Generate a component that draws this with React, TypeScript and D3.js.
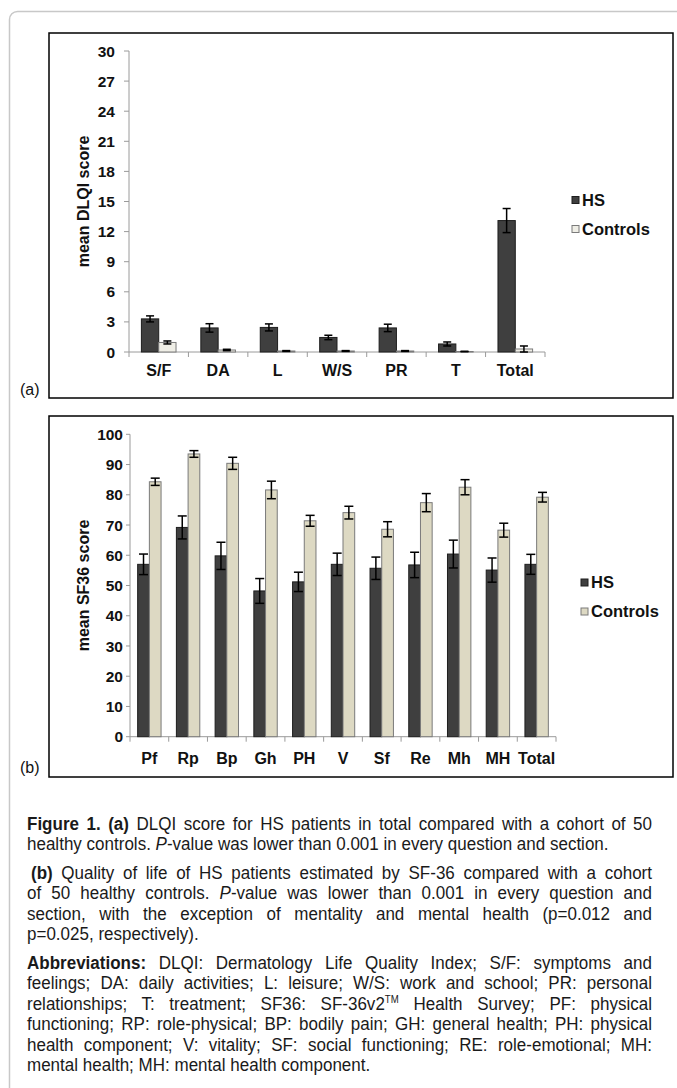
import { useLayoutEffect, useRef } from "react";
import * as d3 from "d3";

// ---- data: (a) DLQI ----
const dlqiCats = ["S/F", "DA", "L", "W/S", "PR", "T", "Total"];
const dlqiHS = [3.3, 2.4, 2.45, 1.45, 2.4, 0.8, 13.1];
const dlqiHSErr = [0.3, 0.42, 0.35, 0.22, 0.37, 0.2, 1.2];
const dlqiCtrl = [0.95, 0.2, 0.1, 0.1, 0.1, 0.05, 0.3];
const dlqiCtrlErr = [0.15, 0.07, 0.04, 0.04, 0.04, 0.02, 0.3];
const dlqiTicks = [0, 3, 6, 9, 12, 15, 18, 21, 24, 27, 30];

// ---- data: (b) SF36 ----
const sfCats = ["Pf", "Rp", "Bp", "Gh", "PH", "V", "Sf", "Re", "Mh", "MH", "Total"];
const sfHS = [57.0, 69.2, 59.8, 48.2, 51.2, 57.0, 55.7, 56.8, 60.4, 55.1, 57.0];
const sfHSErr = [3.4, 3.8, 4.5, 4.1, 3.2, 3.7, 3.7, 4.2, 4.6, 4.0, 3.3];
const sfCtrl = [84.3, 93.5, 90.4, 81.6, 71.4, 74.1, 68.6, 77.4, 82.5, 68.3, 79.2];
const sfCtrlErr = [1.2, 1.1, 2.0, 2.9, 1.8, 2.1, 2.5, 3.0, 2.5, 2.3, 1.6];
const sfTicks = [0, 10, 20, 30, 40, 50, 60, 70, 80, 90, 100];

const seriesNames = ["HS", "Controls"];

const FONT = "'Liberation Sans', Arial, sans-serif";
const HS_FILL = "#3f3f3f";

const geoA = {
  box: [49, 33, 673, 398], axisX: 129, xEnd: 545, yBase: 352, yTop: 51,
  labelEnd: 115, tickLen: 5, xLabelY: 376, legendX: 572, legendY: [200, 229],
  tagY: 395, pad: 0.717, cap: 8, ctrlFill: "#efeee6", title: "mean DLQI score", tag: "(a)",
};
const geoB = {
  box: [49, 416, 673, 777], axisX: 130, xEnd: 556, yBase: 736.7, yTop: 434.3,
  labelEnd: 123, tickLen: 4, xLabelY: 764, legendX: 581, legendY: [582.5, 611.5],
  tagY: 773, pad: 0.655, cap: 9, ctrlFill: "#ddd9c3", title: "mean SF36 score", tag: "(b)",
};

type Geo = typeof geoA;

function Panel({ geo, cats, hs, hsErr, ctrl, ctrlErr, ticks }: {
  geo: Geo; cats: string[]; hs: number[]; hsErr: number[]; ctrl: number[]; ctrlErr: number[]; ticks: number[];
}) {
  const x = d3.scaleBand<string>().domain(cats).range([geo.axisX, geo.xEnd]).padding(0);
  const sub = d3.scaleBand<string>().domain(seriesNames).range([0, x.bandwidth()])
    .paddingInner(0).paddingOuter(geo.pad);
  const y = d3.scaleLinear().domain([0, ticks[ticks.length - 1]]).range([geo.yBase, geo.yTop]);
  const [bx0, by0, bx1, by1] = geo.box;
  const series = [
    { name: "HS", vals: hs, errs: hsErr, fill: HS_FILL, stroke: "#1e1e1e" },
    { name: "Controls", vals: ctrl, errs: ctrlErr, fill: geo.ctrlFill, stroke: "#7a7a7a" },
  ];
  const bounds = [...cats.map((c) => x(c)!), geo.xEnd];
  return (
    <g fontFamily={FONT}>
      <rect x={bx0} y={by0} width={bx1 - bx0} height={by1 - by0} fill="#fff" stroke="#000" strokeWidth={1.5} />
      {/* y axis */}
      <line x1={geo.axisX} x2={geo.axisX} y1={y(ticks[ticks.length - 1])} y2={geo.yBase} stroke="#9a9a9a" />
      {ticks.map((t) => (
        <g key={t}>
          <line x1={geo.axisX - geo.tickLen} x2={geo.axisX} y1={y(t)} y2={y(t)} stroke="#9a9a9a" />
          <text x={geo.labelEnd} y={y(t)} dy="0.36em" textAnchor="end" fontSize={15.5} fontWeight="bold" fill="#111">
            {t}
          </text>
        </g>
      ))}
      {/* x axis */}
      <line x1={geo.axisX} x2={geo.xEnd} y1={geo.yBase} y2={geo.yBase} stroke="#9a9a9a" />
      {bounds.map((b, i) => (
        <line key={i} x1={b} x2={b} y1={geo.yBase} y2={geo.yBase + 5} stroke="#9a9a9a" />
      ))}
      {cats.map((c) => (
        <text key={c} x={x(c)! + x.bandwidth() / 2} y={geo.xLabelY} textAnchor="middle" fontSize={16} fontWeight="bold" fill="#111">
          {c}
        </text>
      ))}
      {/* bars */}
      {series.map((s) =>
        cats.map((c, i) => {
          const bx = x(c)! + sub(s.name)!;
          const bw = sub.bandwidth();
          const cx = bx + bw / 2;
          const top = y(s.vals[i]);
          const eHi = y(s.vals[i] + s.errs[i]);
          const eLo = y(Math.max(0, s.vals[i] - s.errs[i]));
          return (
            <g key={s.name + c}>
              <rect x={bx} y={top} width={bw} height={geo.yBase - top} fill={s.fill} stroke={s.stroke} strokeWidth={1} />
              <line x1={cx} x2={cx} y1={eHi} y2={eLo} stroke="#000" strokeWidth={1.5} />
              <line x1={cx - geo.cap / 2} x2={cx + geo.cap / 2} y1={eHi} y2={eHi} stroke="#000" strokeWidth={1.5} />
              <line x1={cx - geo.cap / 2} x2={cx + geo.cap / 2} y1={eLo} y2={eLo} stroke="#000" strokeWidth={1.5} />
            </g>
          );
        })
      )}
      {/* y title */}
      <text transform={`translate(83,${(geo.yBase + geo.yTop) / 2}) rotate(-90)`} dy="0.36em" textAnchor="middle"
        fontSize={16} fontWeight="bold" fill="#111">
        {geo.title}
      </text>
      {/* legend */}
      {series.map((s, i) => (
        <g key={s.name}>
          <rect x={geo.legendX} y={geo.legendY[i] - 3.5} width={7} height={7} fill={s.fill} stroke={s.stroke} />
          <text x={geo.legendX + 10} y={geo.legendY[i]} dy="0.36em" fontSize={16.5} fontWeight="bold" fill="#111">
            {s.name}
          </text>
        </g>
      ))}
      <text x={20} y={geo.tagY} fontSize={16} fill="#111">{geo.tag}</text>
    </g>
  );
}

type Seg = { t: string; b?: boolean; i?: boolean; sup?: boolean };
const captionLines: { segs: Seg[]; justify: boolean; indent?: number }[] = [
  { segs: [{ t: "Figure 1. (a)", b: true }, { t: " DLQI score for HS patients in total compared with a cohort of 50" }], justify: true },
  { segs: [{ t: "healthy controls. " }, { t: "P", i: true }, { t: "-value was lower than 0.001 in every question and section." }], justify: false },
  { segs: [{ t: "(b)", b: true }, { t: " Quality of life of HS patients estimated by SF-36 compared with a cohort" }], justify: true, indent: 4 },
  { segs: [{ t: "of 50 healthy controls. " }, { t: "P", i: true }, { t: "-value was lower than 0.001 in every question and" }], justify: true },
  { segs: [{ t: "section, with the exception of mentality and mental health (p=0.012 and" }], justify: true },
  { segs: [{ t: "p=0.025, respectively)." }], justify: false },
  { segs: [{ t: "Abbreviations:", b: true }, { t: " DLQI: Dermatology Life Quality Index; S/F: symptoms and" }], justify: true },
  { segs: [{ t: "feelings; DA: daily activities; L: leisure; W/S: work and school; PR: personal" }], justify: true },
  { segs: [{ t: "relationships; T: treatment; SF36: SF-36v2" }, { t: "TM", sup: true }, { t: " Health Survey; PF: physical" }], justify: true },
  { segs: [{ t: "functioning; RP: role-physical; BP: bodily pain; GH: general health; PH: physical" }], justify: true },
  { segs: [{ t: "health component; V: vitality; SF: social functioning; RE: role-emotional; MH:" }], justify: true },
  { segs: [{ t: "mental health; MH: mental health component." }], justify: false },
];
const captionY = [830, 850.5, 879, 899.5, 920, 940.5, 969, 989.5, 1010, 1030.5, 1051, 1071.5];
const CAP_LEFT = 27;
const CAP_RIGHT = 652;
const CAP_SX = 0.92; // narrow-face look

function Caption() {
  const refs = useRef<(SVGTextElement | null)[]>([]);
  useLayoutEffect(() => {
    captionLines.forEach((ln, i) => {
      const el = refs.current[i];
      if (!el || !ln.justify) return;
      el.setAttribute("word-spacing", "0");
      const w = el.getComputedTextLength();
      const txt = ln.segs.map((s) => s.t).join("");
      const spaces = (txt.match(/ /g) || []).length;
      const x0 = (CAP_LEFT + (ln.indent || 0)) / CAP_SX;
      if (spaces > 0) el.setAttribute("word-spacing", String((CAP_RIGHT / CAP_SX - x0 - w) / spaces));
    });
  }, []);
  return (
    <g fontFamily={FONT} fontSize={18.5} fill="#1a1a1a" transform={`scale(${CAP_SX},1)`}>
      {captionLines.map((ln, i) => {
        let shifted = false;
        return (
          <text key={i} ref={(el) => { refs.current[i] = el; }} x={(CAP_LEFT + (ln.indent || 0)) / CAP_SX} y={captionY[i]}>
            {ln.segs.map((s, j) => {
              let dy: number | undefined;
              if (s.sup) { dy = -7; shifted = true; }
              else if (shifted) { dy = 7; shifted = false; }
              return (
                <tspan key={j} fontWeight={s.b ? "bold" : undefined} fontStyle={s.i ? "italic" : undefined}
                  fontSize={s.sup ? 10.5 : undefined} dy={dy}>
                  {s.t}
                </tspan>
              );
            })}
          </text>
        );
      })}
    </g>
  );
}

export default function App() {
  return (
    <svg width={677} height={1088} style={{ position: "absolute", left: 0, top: 0, background: "#fff" }}>
      <rect x={9.5} y={11.5} width={720} height={1120} rx={8} fill="#fff" stroke="#c8c8c8" strokeWidth={1.5} />
      <Panel geo={geoA} cats={dlqiCats} hs={dlqiHS} hsErr={dlqiHSErr} ctrl={dlqiCtrl} ctrlErr={dlqiCtrlErr} ticks={dlqiTicks} />
      <Panel geo={geoB} cats={sfCats} hs={sfHS} hsErr={sfHSErr} ctrl={sfCtrl} ctrlErr={sfCtrlErr} ticks={sfTicks} />
      <Caption />
    </svg>
  );
}
